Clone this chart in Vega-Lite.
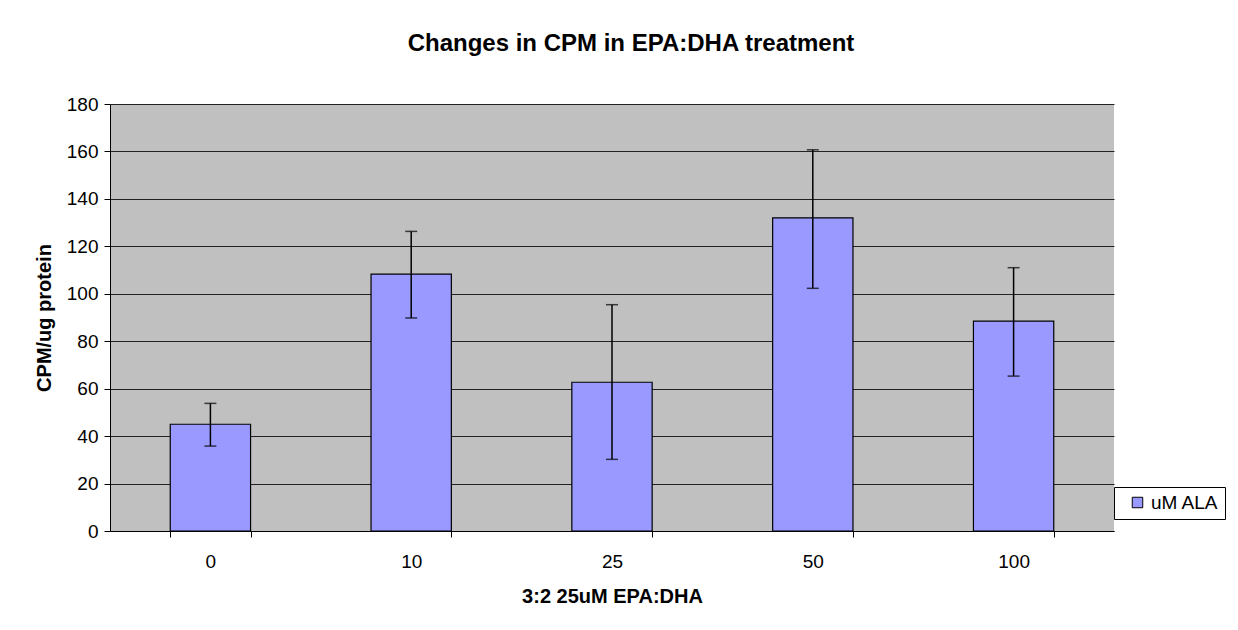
{
  "$schema": "https://vega.github.io/schema/vega-lite/v6.json",
  "width": 1004,
  "height": 427,
  "autosize": {"type": "none"},
  "padding": {"left": 110, "top": 104, "right": 124, "bottom": 99},
  "background": "white",
  "title": {
    "text": "Changes in CPM in EPA:DHA treatment",
    "font": "Liberation Sans",
    "fontSize": 24,
    "fontWeight": "bold",
    "color": "black",
    "anchor": "middle",
    "dx": 19,
    "offset": 39
  },
  "data": {
    "values": [
      {"dose": "0", "value": 45, "lo": 35.8, "hi": 53.8},
      {"dose": "10", "value": 108.3, "lo": 89.8, "hi": 126.3},
      {"dose": "25", "value": 62.7, "lo": 30.2, "hi": 95.4},
      {"dose": "50", "value": 132, "lo": 102.3, "hi": 160.7},
      {"dose": "100", "value": 88.5, "lo": 65.3, "hi": 111}
    ]
  },
  "encoding": {
    "x": {
      "field": "dose",
      "type": "ordinal",
      "sort": null,
      "scale": {"paddingInner": 0.6, "paddingOuter": 0.3},
      "axis": {
        "title": "3:2 25uM EPA:DHA",
        "titleFont": "Liberation Sans",
        "titleFontSize": 20,
        "titleFontWeight": "bold",
        "titleColor": "black",
        "titlePadding": 15,
        "labelFont": "Liberation Sans",
        "labelFontSize": 19,
        "labelColor": "black",
        "labelAngle": 0,
        "labelPadding": 15,
        "tickBand": "extent",
        "tickColor": "black",
        "tickSize": 6,
        "domainColor": "black",
        "grid": false
      }
    }
  },
  "layer": [
    {
      "mark": {"type": "bar", "color": "#9999FF", "stroke": "black", "strokeWidth": 1.2},
      "encoding": {
        "y": {
          "field": "value",
          "type": "quantitative",
          "scale": {"domain": [0, 180], "nice": false},
          "axis": {
            "title": "CPM/ug protein",
            "titleFont": "Liberation Sans",
            "titleFontSize": 20,
            "titleFontWeight": "bold",
            "titleColor": "black",
            "titlePadding": 12,
            "labelFont": "Liberation Sans",
            "labelFontSize": 19,
            "labelColor": "black",
            "labelPadding": 6,
            "values": [0, 20, 40, 60, 80, 100, 120, 140, 160, 180],
            "tickColor": "black",
            "tickSize": 6,
            "domainColor": "black",
            "grid": true,
            "gridColor": "#222222",
            "gridOpacity": 1,
            "gridWidth": 1
          }
        },
        "color": {
          "datum": "uM ALA",
          "type": "nominal",
          "scale": {"range": ["#9999FF"]},
          "legend": {
            "title": null,
            "orient": "none",
            "legendX": 1004,
            "legendY": 383,
            "direction": "vertical",
            "symbolType": "square",
            "symbolSize": 110,
            "symbolStrokeColor": "black",
            "symbolStrokeWidth": 1,
            "symbolOffset": 8,
            "labelOffset": 4,
            "labelFont": "Liberation Sans",
            "labelFontSize": 19,
            "labelColor": "black",
            "labelExpr": "datum.label + '  '",
            "strokeColor": "black",
            "fillColor": "white",
            "padding": 6,
            "labelLimit": 200
          }
        }
      }
    },
    {
      "mark": {"type": "rule", "color": "black", "strokeWidth": 1.5},
      "encoding": {
        "y": {"field": "lo", "type": "quantitative"},
        "y2": {"field": "hi"}
      }
    },
    {
      "mark": {"type": "tick", "color": "black", "size": 12, "thickness": 1.5},
      "encoding": {"y": {"field": "lo", "type": "quantitative"}}
    },
    {
      "mark": {"type": "tick", "color": "black", "size": 12, "thickness": 1.5},
      "encoding": {"y": {"field": "hi", "type": "quantitative"}}
    }
  ],
  "config": {
    "view": {"fill": "#C0C0C0", "stroke": null}
  }
}
